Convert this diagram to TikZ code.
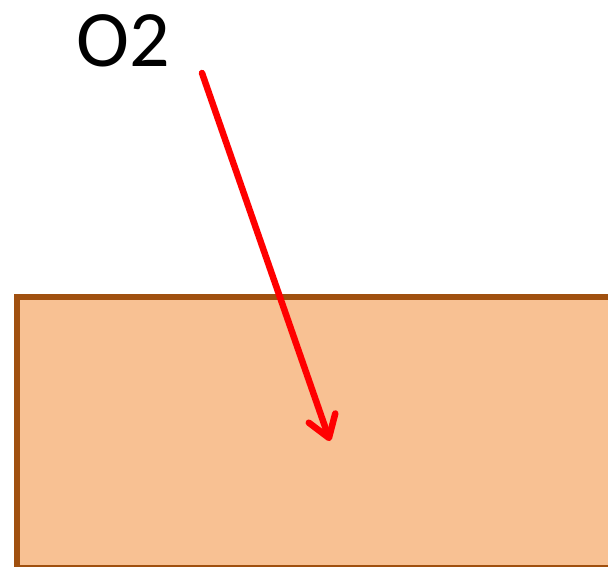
\documentclass[tikz,border=0pt]{standalone}
\usepackage{fontspec}
\setmainfont{Carlito}
\usetikzlibrary{arrows.meta}
\definecolor{slabfill}{HTML}{F8C193}
\definecolor{slabedge}{HTML}{A0500F}
\tikzset{
  slab/.style={fill=slabfill, draw=slabedge, line width=6pt},
  flux/.style={draw=red, line width=6.5pt, line cap=round,
    -{Straight Barb[length=21pt, width=28pt, line width=6.5pt, round]}},
  label/.style={font=\fontsize{80}{80}\selectfont, inner sep=0pt, anchor=base west}
}
\begin{document}
\begin{tikzpicture}[x=1pt, y=-1pt]
\useasboundingbox (0,0) rectangle (608,567);
\clip (0,0) rectangle (608,567);
\draw[slab] (16.5,296.5) rectangle (640,568);
\node[label] (o2) at (76,67) {O2};
\coordinate (start) at (202,73);
\coordinate (end) at (330,441);
\draw[flux] (start) -- (end);
\end{tikzpicture}
\end{document}
